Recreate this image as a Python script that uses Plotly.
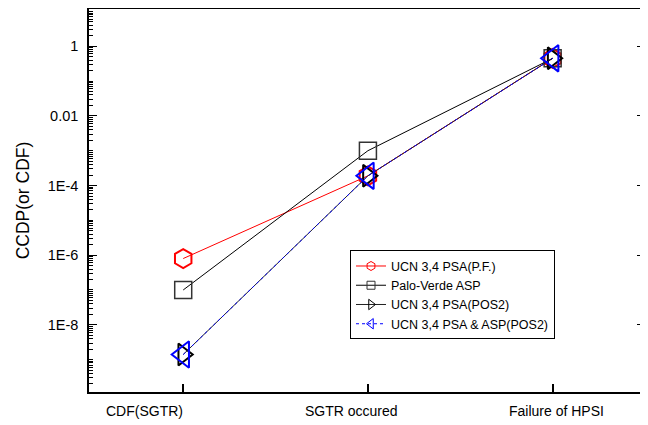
import plotly.graph_objects as go

categories = ["CDF(SGTR)", "SGTR occured", "Failure of HPSI"]
ucn_pf = [8e-7, 1.9e-4, 0.45]
palo_verde = [1e-7, 1e-3, 0.45]
ucn_pos2 = [1.4e-9, 1.9e-4, 0.45]
ucn_asp_pos2 = [1.4e-9, 1.9e-4, 0.45]
names = ["UCN 3,4 PSA(P.F.)", "Palo-Verde ASP", "UCN 3,4 PSA(POS2)", "UCN 3,4 PSA & ASP(POS2)"]

ytick_vals = [1e-8, 1e-6, 1e-4, 1e-2, 1]
ytick_text = ["1E-8", "1E-6", "1E-4", "0.01", "1"]

# horizontal label offsets (px) seen in the reference's category labels
label_shift = [-39, -16, 4]

x = list(range(len(categories)))
font = "Liberation Sans, Arial, sans-serif"

series = [ucn_pf, palo_verde, ucn_pos2, ucn_asp_pos2]
styles = [
    dict(line=dict(color="red", width=1), symbol="hexagon-open", size=19, mcolor="red", mw=2, lsize=9),
    dict(line=dict(color="black", width=1), symbol="square-open", size=17, mcolor="#333", mw=1.5, lsize=8),
    dict(line=dict(color="#222", width=1), symbol="triangle-right-open", size=19, mcolor="black", mw=2, lsize=9),
    dict(line=dict(color="blue", width=1, dash="dot"), symbol="triangle-left-open", size=23, mcolor="blue", mw=2, lsize=9),
]

fig = go.Figure()
for name, ys, st in zip(names, series, styles):
    fig.add_trace(go.Scatter(x=x, y=ys, name=name, mode="lines+markers", showlegend=False,
                             line=st["line"],
                             marker=dict(symbol=st["symbol"], size=st["size"], color=st["mcolor"],
                                         line=dict(width=st["mw"]))))
for name, st in zip(names, styles):
    fig.add_trace(go.Scatter(x=[None], y=[None], name=name, mode="lines+markers", showlegend=True,
                             line=st["line"],
                             marker=dict(symbol=st["symbol"], size=st["lsize"], color=st["mcolor"],
                                         line=dict(width=1))))

for xi, lab, sh in zip(x, categories, label_shift):
    fig.add_annotation(x=xi, y=0, xref="x", yref="paper", text=lab, showarrow=False,
                       xanchor="center", yanchor="top", yshift=-9, xshift=sh,
                       font=dict(size=14))

minor_vals = []
for d in range(-10, 2):
    for k in range(1, 10):
        minor_vals.append(k * 10.0 ** d)

# page body has an 8px default margin; compensate so the plot area lands where the reference has it
fig.update_layout(
    width=648, height=425,
    margin=dict(l=81, r=11, t=1, b=41, autoexpand=False),
    paper_bgcolor="white", plot_bgcolor="white",
    font=dict(family=font, size=13, color="black"),
    showlegend=True,
    legend=dict(x=(350 - 89) / 556, y=(392 - 250) / 384, xanchor="left", yanchor="top",
                bordercolor="black", borderwidth=1, bgcolor="white",
                font=dict(size=12.5), tracegroupgap=0, itemwidth=30),
)
fig.update_xaxes(
    range=[-0.51, 2.5], tickmode="array", tickvals=x, showticklabels=False,
    ticks="inside", ticklen=8, tickwidth=1.5, tickcolor="black",
    showline=True, linecolor="black", linewidth=1.5, mirror=True,
    showgrid=False, zeroline=False, automargin=False,
)
fig.update_yaxes(
    type="log", range=[-9.93, 1.07],
    tickmode="array", tickvals=ytick_vals, ticktext=ytick_text,
    ticks="inside", ticklen=8, tickwidth=1, tickcolor="black",
    minor=dict(tickmode="array", tickvals=minor_vals, ticks="inside", ticklen=4,
               tickcolor="black", showgrid=False),
    showline=True, linecolor="black", linewidth=1.5, mirror="allticks",
    showgrid=False, zeroline=False, automargin=False, ticklabelstandoff=6,
    tickfont=dict(size=14.5),
    title=dict(text="CCDP(or CDF)", font=dict(size=17.5), standoff=14),
)

fig.write_html("out.html")
